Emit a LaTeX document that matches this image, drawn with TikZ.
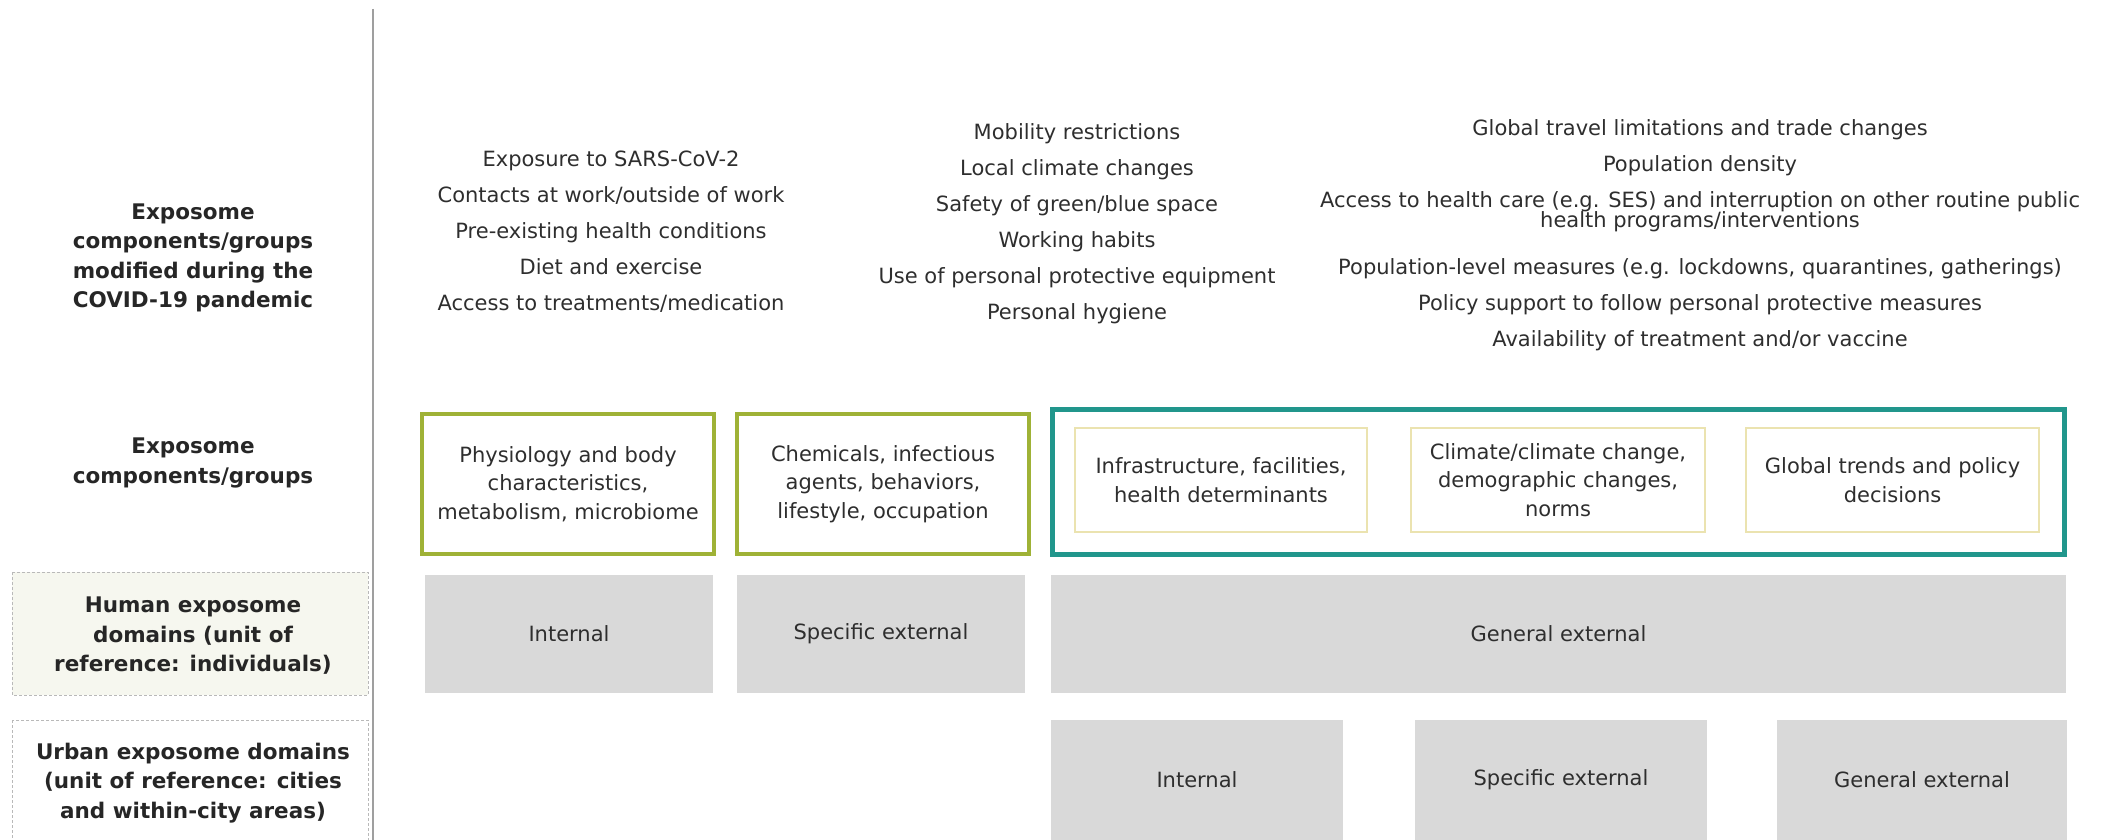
\documentclass[tikz,border=0pt]{standalone}
\usepackage{fontspec}
\setmainfont{DejaVu Sans}
\definecolor{boxolive}{HTML}{9FB236}
\definecolor{boxteal}{HTML}{21968C}
\definecolor{boxcream}{HTML}{EBE3B0}
\definecolor{domgray}{HTML}{D9D9D9}
\definecolor{labfill}{HTML}{F6F7EF}
\definecolor{textgray}{HTML}{2E2E2E}

\begin{document}
\begin{tikzpicture}[x=1pt,y=-1pt,
  txt/.style={font=\fontsize{21}{36}\selectfont,text=textgray,align=center},
  boxtxt/.style={font=\fontsize{21}{28.5}\selectfont,text=textgray,align=center,inner sep=0pt},
  lab/.style={font=\bfseries\fontsize{21.5}{29.5}\selectfont,text=black!85,align=center},
  groupbox/.style={boxtxt,draw=boxolive,line width=4pt,minimum width=292,minimum height=140},
  subbox/.style={boxtxt,draw=boxcream,line width=1.5pt,minimum height=104},
  dombox/.style={boxtxt,fill=domgray,minimum height=118},
  labbox/.style={draw=gray!55,densely dashed,line width=1pt}]
\useasboundingbox (0,0) rectangle (2109,840);

% left column
\draw[labbox,fill=labfill] (12,572) rectangle (368,695);
\draw[labbox] (12,720) rectangle (368,860);
\draw[gray!75,line width=2pt] (373,9) -- (373,840);
\node[lab] (modlab) at (193,258) {Exposome\\components/groups\\modified during the\\COVID-19 pandemic};
\node[lab] (grplab) at (193,463) {Exposome\\components/groups};
\node[lab] (humlab) at (193,636) {Human exposome\\domains (unit of\\reference: individuals)};
\node[lab] (urblab) at (193,783) {Urban exposome domains\\(unit of reference: cities\\and within-city areas)};

% modified components
\node[txt] (modint) at (611,231.5) {Exposure to SARS-CoV-2\\Contacts at work/outside of work\\Pre-existing health conditions\\Diet and exercise\\Access to treatments/medication};
\node[txt] (modspec) at (1077,223.5) {Mobility restrictions\\Local climate changes\\Safety of green/blue space\\Working habits\\Use of personal protective equipment\\Personal hygiene};
\node[txt] (modgen) at (1700,235) {Global travel limitations and trade changes\\Population density\\Access to health care (e.g. SES) and interruption on other routine public\\[-16pt]health programs/interventions\\[11pt]Population-level measures (e.g. lockdowns, quarantines, gatherings)\\Policy support to follow personal protective measures\\Availability of treatment and/or vaccine};

% components/groups
\node[groupbox] (phys) at (568,484) {Physiology and body\\characteristics,\\metabolism, microbiome};
\node[groupbox] (chem) at (883,484) {Chemicals, infectious\\agents, behaviors,\\lifestyle, occupation};
\node[draw=boxteal,line width=5pt,minimum width=1012,minimum height=145,inner sep=0pt] (genbox) at (1558.5,482) {};
\node[subbox,minimum width=292] (infra) at (1221,480) {Infrastructure, facilities,\\health determinants};
\node[subbox,minimum width=294] (clim) at (1558,480) {Climate/climate change,\\demographic changes,\\norms};
\node[subbox,minimum width=293] (glob) at (1892.5,480) {Global trends and policy\\decisions};

% human exposome domains
\node[dombox,minimum width=288] (hint) at (569,634) {Internal};
\node[dombox,minimum width=288] (hspec) at (881,634) {Specific external};
\node[dombox,minimum width=1015] (hgen) at (1558.5,634) {General external};

% urban exposome domains
\node[dombox,minimum width=292,minimum height=120] (uint) at (1197,780) {Internal};
\node[dombox,minimum width=292,minimum height=120] (uspec) at (1561,780) {Specific external};
\node[dombox,minimum width=290,minimum height=120] (ugen) at (1922,780) {General external};
\end{tikzpicture}
\end{document}
